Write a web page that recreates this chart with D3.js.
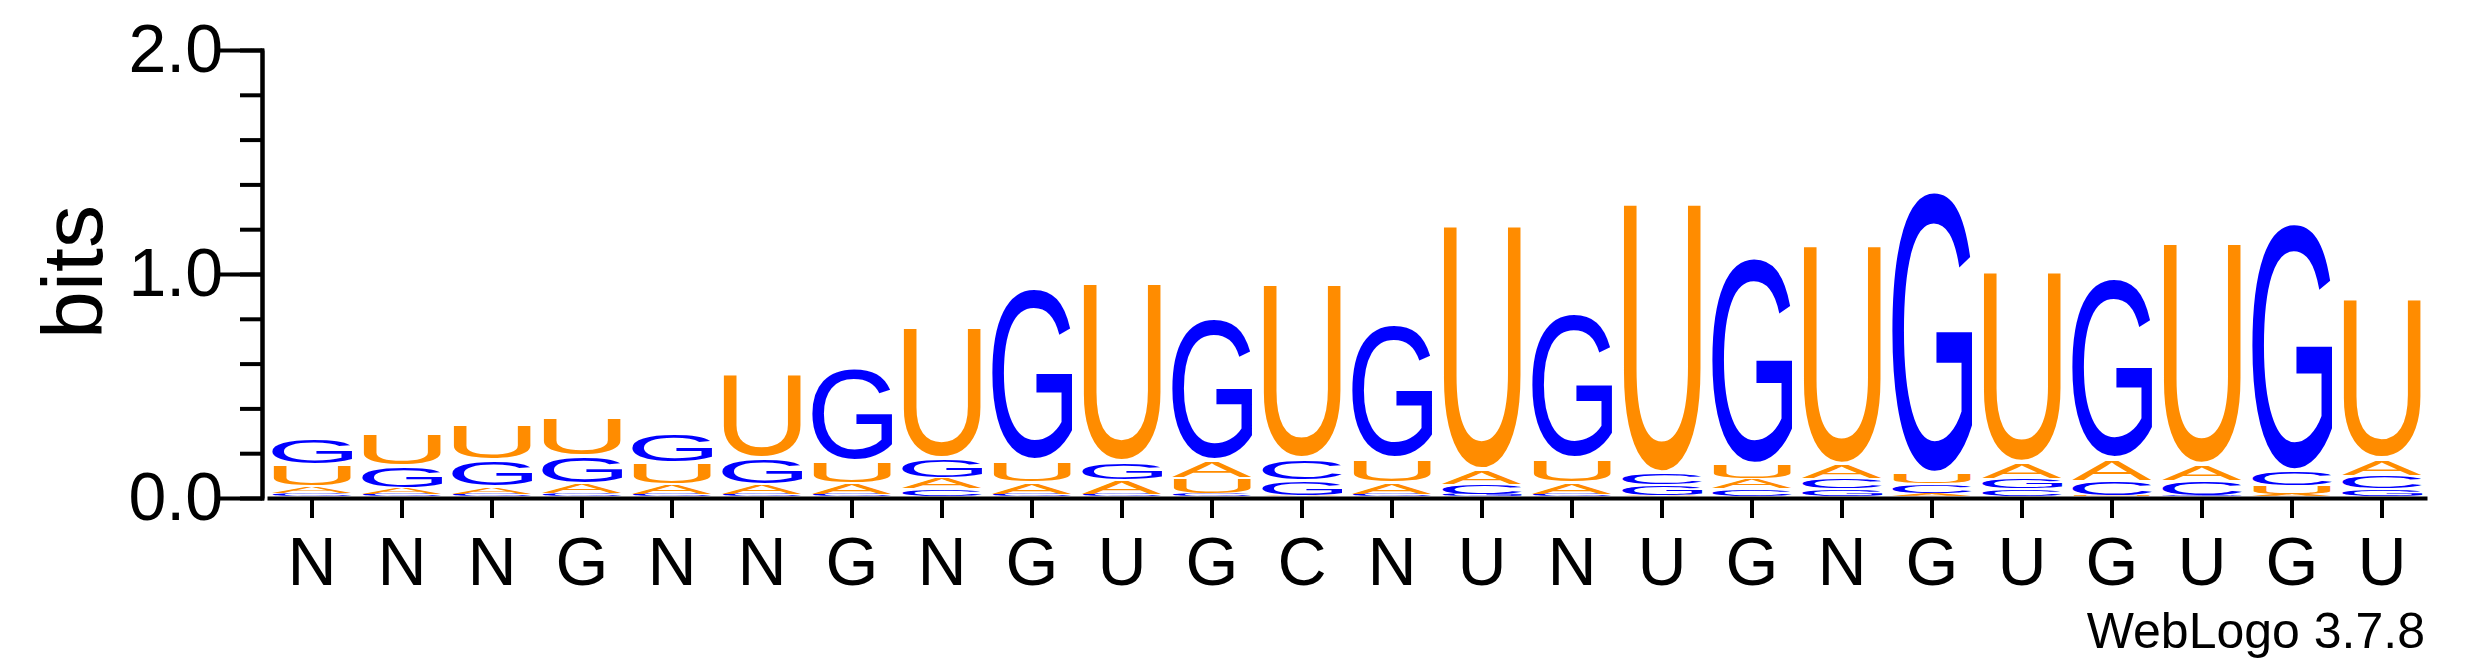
<!DOCTYPE html>
<html>
<head>
<meta charset="utf-8">
<script src="https://cdn.jsdelivr.net/npm/d3@7"></script>
<style>
  body { margin: 0; background: #fff; }
  svg { display: block; }
  text { font-family: "Liberation Sans", Arial, sans-serif; }
</style>
</head>
<body>
<svg id="logo" width="2475" height="667"></svg>
<script>
// consensus labels under each position
const positions = ["N","N","N","G","N","N","G","N","G","U","G","C","N","U","N","U","G","N","G","U","G","U","G","U"];

// letter heights in bits, one value per position
const bitsA = [0.03, 0.03, 0.035, 0.045, 0.045, 0.045, 0.05, 0.05, 0.055, 0.065, 0.08, 0.005, 0.055, 0.065, 0.055, 0.005, 0.045, 0.065, 0.012, 0.075, 0.10, 0.075, 0.01, 0.075];
const bitsC = [0.015, 0.01, 0.01, 0.015, 0.01, 0.01, 0.01, 0.035, 0.01, 0.01, 0.01, 0.095, 0.01, 0.045, 0.01, 0.052, 0.035, 0.045, 0.043, 0.035, 0.065, 0.065, 0.065, 0.06];
const bitsG = [0.12, 0.10, 0.12, 0.125, 0.13, 0.12, 0.417, 0.09, 0.775, 0.08, 0.64, 0.07, 0.605, 0.01, 0.65, 0.048, 0.93, 0.035, 1.27, 0.045, 0.81, 0.005, 1.115, 0.035];
const bitsU = [0.10, 0.15, 0.16, 0.175, 0.10, 0.38, 0.10, 0.595, 0.095, 0.81, 0.075, 0.795, 0.11, 1.115, 0.11, 1.23, 0.065, 1.0, 0.047, 0.87, 0.005, 1.01, 0.04, 0.73];

const yMajor = [0, 1, 2];
const colors = { A: "#ff8c00", U: "#ff8c00", G: "#0000ff", C: "#0000ff" };

const svg = d3.select("#logo");

// scales
const x = d3.scaleBand()
    .domain(d3.range(positions.length))
    .range([267, 2427])
    .padding(0);

const y = d3.scaleLinear()
    .domain([0, 2])
    .range([498, 50]);

// y axis: minor ticks then major ticks with labels
svg.append("g")
    .attr("transform", "translate(262,0)")
    .call(d3.axisLeft(y).tickValues(d3.range(0, 2.01, 0.2)).tickSize(22).tickSizeOuter(0).tickFormat(""))
    .call(g => g.selectAll("line, path").attr("stroke", "#000").attr("stroke-width", 4));

const yAxis = svg.append("g")
    .attr("transform", "translate(262,0)")
    .call(d3.axisLeft(y).tickValues(yMajor).tickSize(43).tickSizeOuter(0).tickPadding(-4).tickFormat(d3.format(".1f")));
yAxis.selectAll("line, path").attr("stroke", "#000").attr("stroke-width", 4).attr("stroke-linecap", "square");
yAxis.selectAll("text").attr("font-size", 68).attr("fill", "#000")
    .attr("font-family", "Liberation Sans, Arial, sans-serif");

// x axis
const xAxis = svg.append("g")
    .attr("transform", `translate(0,${y(0)})`)
    .call(d3.axisBottom(x).tickSize(20).tickSizeOuter(0).tickPadding(19).tickFormat(i => positions[i]));
xAxis.selectAll("line, path").attr("stroke", "#000").attr("stroke-width", 4);
xAxis.selectAll("text").attr("font-size", 68).attr("fill", "#000")
    .attr("font-family", "Liberation Sans, Arial, sans-serif");

// y label
svg.append("text")
    .attr("transform", `translate(102,${y(1) - 2}) rotate(-90)`)
    .attr("text-anchor", "middle")
    .attr("font-size", 86)
    .text("bits");

// footer
svg.append("text")
    .attr("x", 2425)
    .attr("y", 648)
    .attr("text-anchor", "end")
    .attr("font-size", 50)
    .text("WebLogo 3.7.8");

// glyph ink metrics, so letters can be stretched to fill their boxes
const ctx = document.createElement("canvas").getContext("2d");
ctx.font = "400px 'Liberation Sans'";
const metrics = {};
["A", "C", "G", "U"].forEach(l => {
    const m = ctx.measureText(l);
    metrics[l] = {
        left: m.actualBoundingBoxLeft,
        right: m.actualBoundingBoxRight,
        ascent: m.actualBoundingBoxAscent,
        descent: m.actualBoundingBoxDescent
    };
});

// build stacks, smallest letter at the bottom
const stacks = positions.map((p, i) => {
    const letters = [
        { l: "A", v: bitsA[i] },
        { l: "C", v: bitsC[i] },
        { l: "G", v: bitsG[i] },
        { l: "U", v: bitsU[i] }
    ].sort((a, b) => a.v - b.v);
    let acc = 0;
    letters.forEach(d => { d.y0 = acc; acc += d.v; d.y1 = acc; d.i = i; });
    return letters;
});

const letterW = 80;
const base = -2; // letters sit just above the axis line

svg.append("g").selectAll("g")
    .data(stacks)
    .join("g")
    .selectAll("text")
    .data(d => d)
    .join("text")
    .attr("font-size", 400)
    .attr("fill", d => colors[d.l])
    .attr("transform", d => {
        const m = metrics[d.l];
        const cx = x(d.i) + x.bandwidth() / 2;
        const x0 = cx - letterW / 2;
        const yb = y(d.y0) + base;
        const h = y(d.y0) - y(d.y1);
        const gap = Math.min(3, h * 0.12);
        const inkH = Math.max(h - gap, 0.3);
        const sx = letterW / (m.left + m.right);
        const sy = inkH / (m.ascent + m.descent);
        return `translate(${x0 + m.left * sx},${yb - m.descent * sy}) scale(${sx},${sy})`;
    })
    .text(d => d.l);
</script>
</body>
</html>
